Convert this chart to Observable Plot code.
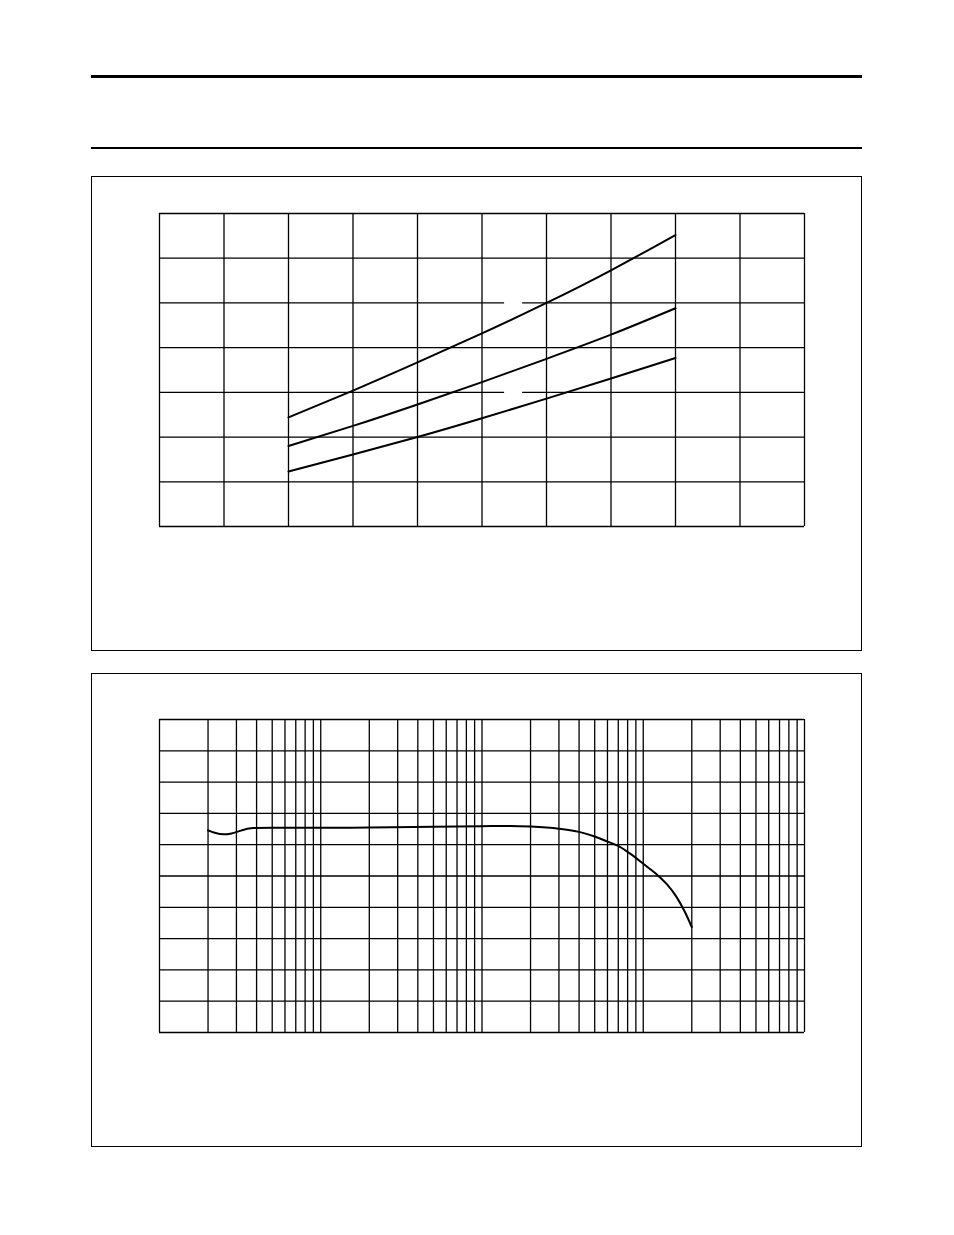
<!DOCTYPE html>
<html>
<head>
<meta charset="utf-8">
<script src="https://cdn.jsdelivr.net/npm/d3@7"></script>
<script src="https://cdn.jsdelivr.net/npm/@observablehq/plot@0.6"></script>
<style>
  html, body { margin: 0; padding: 0; background: #fff; width: 954px; height: 1235px; overflow: hidden; font-family: "Liberation Sans", Arial, sans-serif; }
  .abs { position: absolute; }
  .rule { position: absolute; left: 91px; width: 771px; background: #000; }
  .box { position: absolute; border: 1px solid #000; box-sizing: border-box; pointer-events: none; }
</style>
</head>
<body>
<div class="rule" style="top:75px;height:3px"></div>
<div class="rule" style="top:147px;height:2px"></div>
<div class="box" style="left:91px;top:176px;width:771px;height:475px"></div>
<div class="box" style="left:91px;top:673px;width:771px;height:474px"></div>
<div id="c1" class="abs" style="left:91px;top:176px"></div>
<div id="c2" class="abs" style="left:91px;top:673px"></div>
<script>
// ---------- Chart 1 (linear grid, three curves) ----------
const grid1X = [0, 1, 2, 3, 4, 5, 6, 7, 8, 9, 10];
const grid1Y = [0, 1, 2, 3, 4, 5, 6, 7];
const curveX = [2, 3, 4, 5, 6, 7, 8];
const curveTop = [2.44, 3.04, 3.67, 4.32, 5.00, 5.73, 6.52];
const curveMid = [1.80, 2.25, 2.73, 3.23, 3.75, 4.29, 4.88];
const curveLow = [1.23, 1.61, 2.00, 2.42, 2.86, 3.31, 3.77];
// gaps left in grid lines where curve labels once stood
const labelGapX1 = [5.35, 5.35];
const labelGapX2 = [5.63, 5.63];
const labelGapY = [5, 3];

// ---------- Chart 2 (log-frequency grid, response curve) ----------
const grid2Y = [0, 1, 2, 3, 4, 5, 6, 7, 8, 9, 10];
const decades = [10, 100, 1000, 10000];
const multiples = [1, 2, 3, 4, 5, 6, 7, 8, 9];
const respF = [20, 22, 25, 28, 32, 38, 50, 100, 200, 500, 1000, 1500, 2000, 3000, 4000, 5000, 6000, 7000, 8000, 9000, 10000, 12000, 14000, 16000, 18000, 20000];
const respY = [6.46, 6.38, 6.33, 6.36, 6.45, 6.53, 6.54, 6.54, 6.55, 6.57, 6.59, 6.60, 6.58, 6.51, 6.41, 6.26, 6.10, 5.96, 5.77, 5.58, 5.39, 5.07, 4.74, 4.35, 3.88, 3.37];

const gridStroke = 1.3;
const curveStroke = 2;

const series1 = [
  ...curveX.map((x, i) => ({x, y: curveTop[i], s: "a"})),
  ...curveX.map((x, i) => ({x, y: curveMid[i], s: "b"})),
  ...curveX.map((x, i) => ({x, y: curveLow[i], s: "c"}))
];
const gaps = labelGapY.map((y, i) => ({x1: labelGapX1[i], x2: labelGapX2[i], y}));

const p1 = Plot.plot({
  width: 771, height: 475,
  marginLeft: 68, marginRight: 58, marginTop: 37, marginBottom: 125,
  x: {domain: [0, 10], axis: null},
  y: {domain: [0, 7], axis: null},
  marks: [
    Plot.ruleX(grid1X, {stroke: "#000", strokeWidth: gridStroke}),
    Plot.ruleY(grid1Y, {stroke: "#000", strokeWidth: gridStroke}),
    Plot.ruleY(gaps, {x1: "x1", x2: "x2", y: "y", stroke: "#fff", strokeWidth: 3}),
    Plot.line(series1, {x: "x", y: "y", z: "s", stroke: "#000", strokeWidth: curveStroke, curve: "natural"})
  ]
});
document.getElementById("c1").appendChild(p1);

const grid2X = [];
decades.forEach(d => multiples.forEach(m => grid2X.push(d * m)));
grid2X.push(100000);
const resp = respF.map((f, i) => ({f, y: respY[i]}));

const p2 = Plot.plot({
  width: 771, height: 474,
  marginLeft: 68, marginRight: 58, marginTop: 46, marginBottom: 115,
  x: {type: "log", domain: [10, 100000], axis: null},
  y: {domain: [0, 10], axis: null},
  marks: [
    Plot.ruleX(grid2X, {stroke: "#000", strokeWidth: gridStroke}),
    Plot.ruleY(grid2Y, {stroke: "#000", strokeWidth: gridStroke}),
    Plot.line(resp, {x: "f", y: "y", stroke: "#000", strokeWidth: curveStroke, curve: "monotone-x"})
  ]
});
document.getElementById("c2").appendChild(p2);
</script>
</body>
</html>
